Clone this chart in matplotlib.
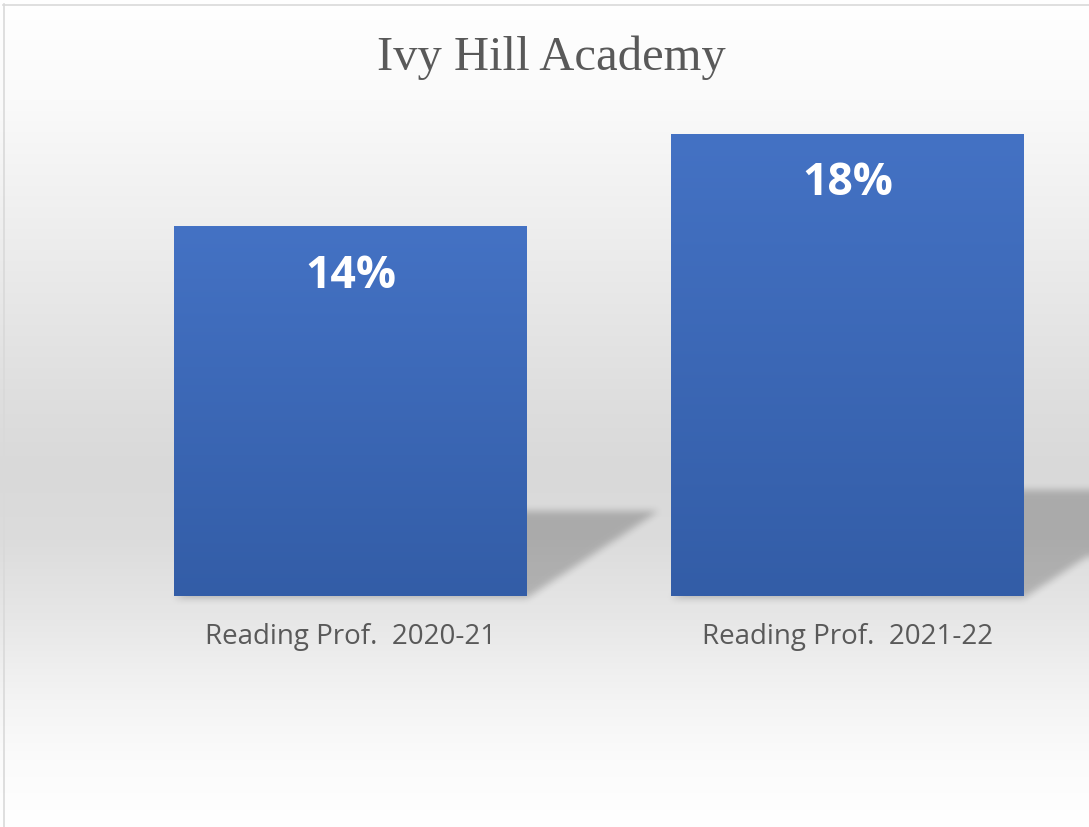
import numpy as np
import matplotlib
matplotlib.use('Agg')
import matplotlib.pyplot as plt
from matplotlib.path import Path
from matplotlib.lines import Line2D

# data
title = 'Ivy Hill Academy'
categories = ['Reading Prof.  2020-21', 'Reading Prof.  2021-22']
values = [14.4, 18.0]   # reading proficiency, percent

W, H = 1089, 827
fig = plt.figure(figsize=(W / 100, H / 100), dpi=100)
ax = fig.add_axes([0, 0, 1, 1])
ax.set_axis_off()
xlim = (-0.7052, 1.4859)
ylim = (-9.0, 23.22)
ext = (xlim[0], xlim[1], ylim[0], ylim[1])

# background: vertical grey gradient (pixel row from top -> grey level)
stops_y = [0, 100, 250, 400, 470, 540, 620, 700, 760, 827]
stops_v = [255, 250, 236, 222, 217, 220, 231, 244, 251, 255]
g = np.interp(np.arange(H) + 0.5, stops_y, stops_v) / 255.0
bg = np.repeat(g[:, None], 3, axis=1)[:, None, :]
ax.imshow(bg, extent=ext, aspect='auto', zorder=0, interpolation='bilinear')

# bars
x = np.arange(len(values))
bars = ax.bar(x, values, width=0.71, color='none', edgecolor='none', zorder=3)
ax.set_xlim(*xlim)
ax.set_ylim(*ylim)

top_c = np.array([68, 114, 196]) / 255.0
bot_c = np.array([51, 93, 167]) / 255.0
t = np.linspace(0, 1, 256)[:, None]
grad = (top_c * (1 - t) + bot_c * t)[:, None, :]
for b in bars:
    im = ax.imshow(grad, extent=(b.get_x(), b.get_x() + b.get_width(), 0, b.get_height()),
                   aspect='auto', zorder=3, interpolation='bilinear')
    im.set_clip_path(b)

# perspective shadows behind the bars (rasterised and blurred)
yy, xx = np.mgrid[0:H, 0:W]
pts = np.column_stack([xx.ravel() + 0.5, H - yy.ravel() - 0.5])
mask = np.zeros(H * W)
for b in bars:
    (x0, y0), (x1, y1) = ax.transData.transform([(b.get_x(), 0),
                                                 (b.get_x() + b.get_width(), b.get_height())])
    hs = 0.23 * (y1 - y0)
    s = 1.55 * hs
    poly = Path([(x0, y0 - 2), (x1, y0 - 2), (x1 + s, y0 + hs), (x0 + s, y0 + hs), (x0, y0 - 2)])
    mask = np.maximum(mask, poly.contains_points(pts))
mask = mask.reshape(H, W)


def box(a, r, axis):
    pad = [(0, 0), (0, 0)]
    pad[axis] = (r + 1, r)
    c = np.cumsum(np.pad(a, pad, mode='edge'), axis=axis)
    n = a.shape[axis]
    if axis == 0:
        return (c[2 * r + 1:2 * r + 1 + n] - c[:n]) / (2 * r + 1)
    return (c[:, 2 * r + 1:2 * r + 1 + n] - c[:, :n]) / (2 * r + 1)


for _ in range(3):
    mask = box(mask, 3, 0)
    mask = box(mask, 3, 1)
shadow = np.zeros((H, W, 4))
shadow[..., 3] = mask * 0.22
ax.imshow(shadow, extent=ext, aspect='auto', zorder=1, interpolation='nearest')
ax.set_xlim(*xlim)
ax.set_ylim(*ylim)

# data labels
for xi, v in zip(x, values):
    ax.annotate('{:.0f}%'.format(v), (xi, v), xytext=(0, -36), textcoords='offset points',
                ha='center', va='center', color='white', fontsize=32, fontweight='bold',
                family='Open Sans', zorder=5)

# category labels
for xi, lab in zip(x, categories):
    ax.annotate(lab, (xi, 0), xytext=(0, -29.5), textcoords='offset points',
                ha='center', va='center', color='#595959', fontsize=20,
                family='Open Sans', zorder=5)

fig.text(551.5 / W, 1 - 58 / H, title, ha='center', va='center', color='#595959',
         fontsize=35, family='Liberation Serif')

# chart border (cropped on right and bottom)
fig.add_artist(Line2D([3.5 / W, 3.5 / W], [0, 1 - 4 / H], color='#d9d9d9', lw=1.2))
fig.add_artist(Line2D([3 / W, 1], [1 - 4.5 / H, 1 - 4.5 / H], color='#d9d9d9', lw=1.2))

fig.savefig('out.png', dpi=100)
